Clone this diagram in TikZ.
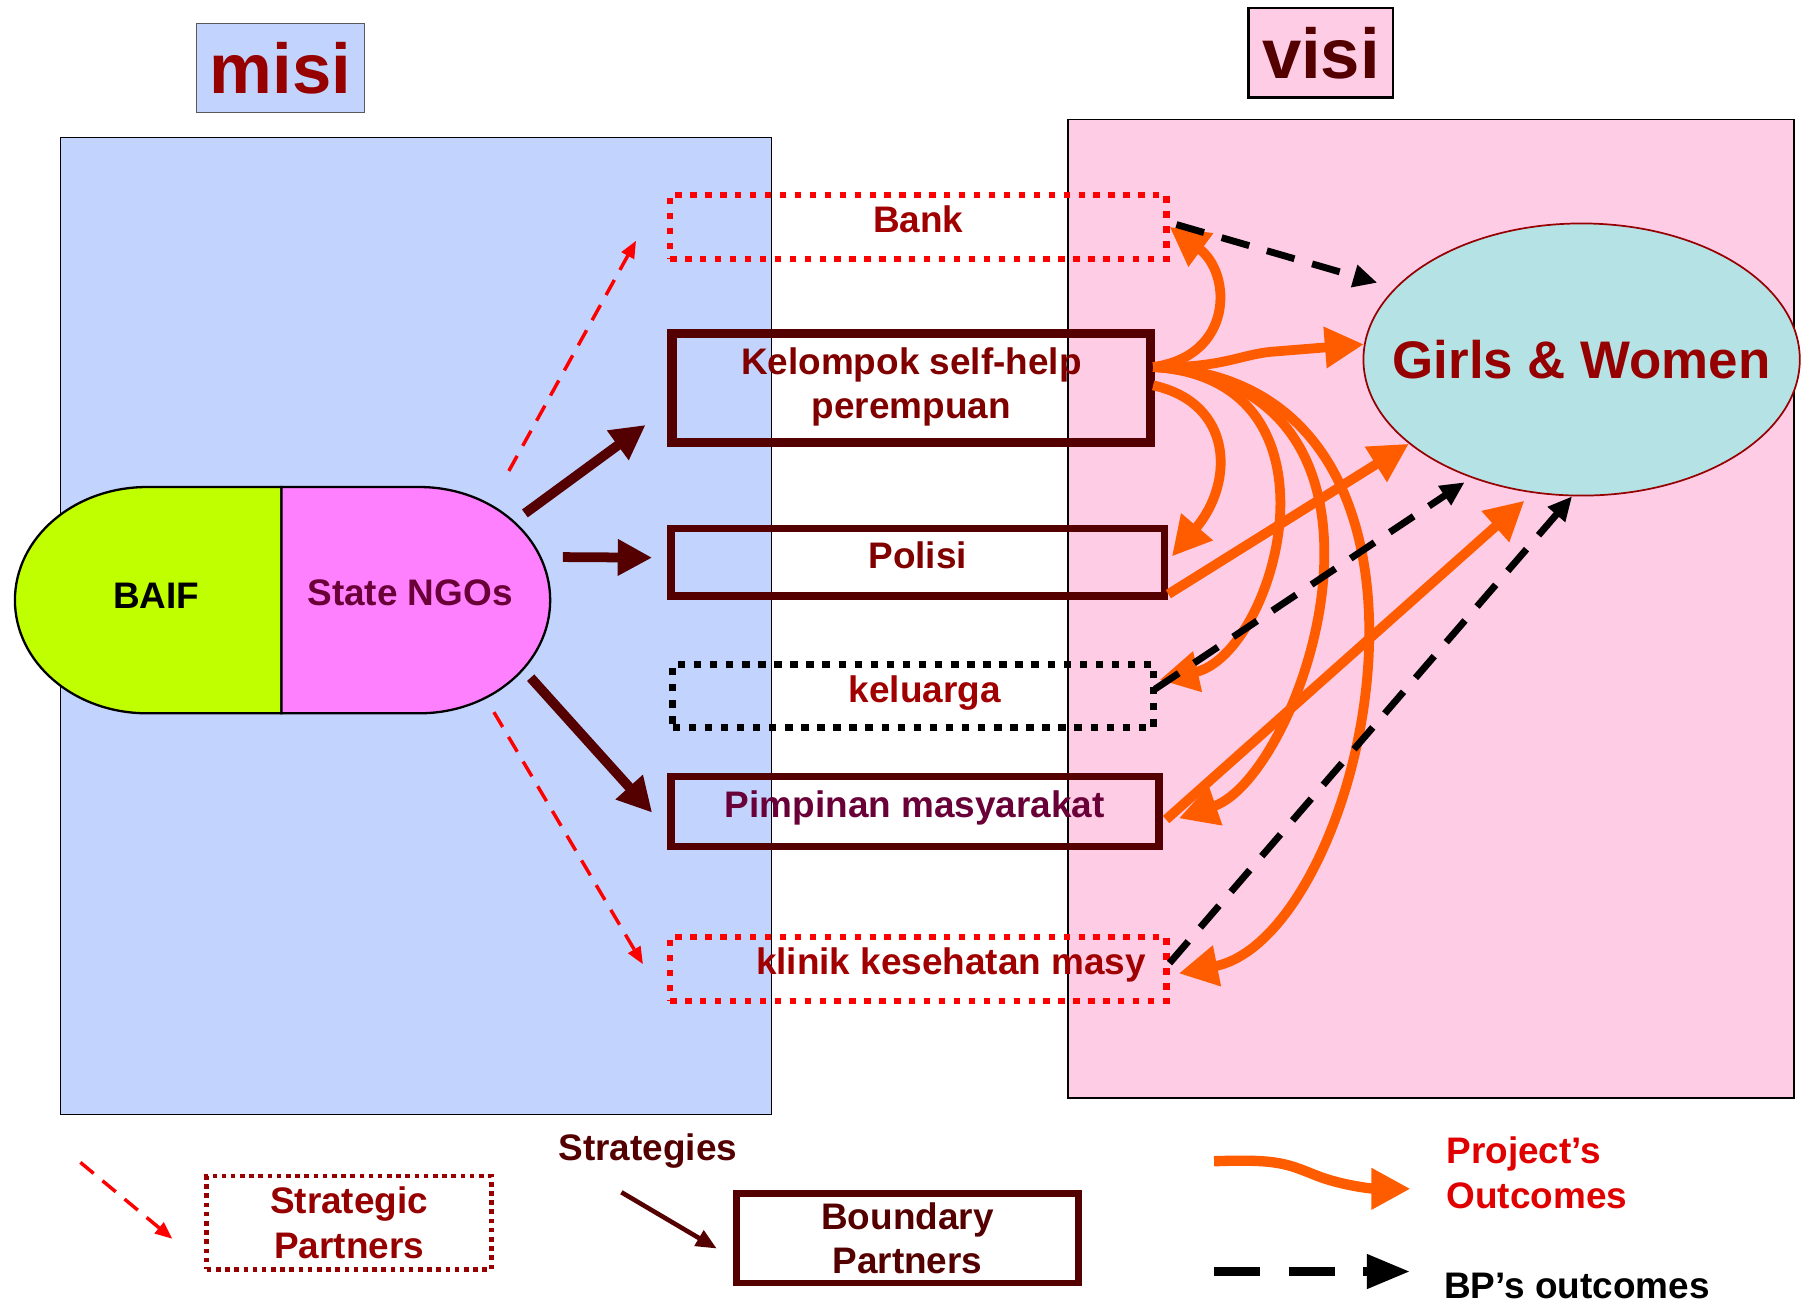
\documentclass[tikz,border=0pt]{standalone}
\usepackage{fontspec}
\setmainfont{Liberation Sans}
\usetikzlibrary{arrows.meta, positioning, shapes.geometric, calc}

\definecolor{misiblue}{RGB}{194,212,253}
\definecolor{visipink}{RGB}{255,204,230}
\definecolor{girlscyan}{RGB}{181,226,228}
\definecolor{baifgreen}{RGB}{191,255,0}
\definecolor{ngopink}{RGB}{255,128,255}
\definecolor{outorange}{RGB}{255,92,0}
\definecolor{bpbrown}{RGB}{85,0,0}
\definecolor{txtred}{RGB}{160,0,0}
\definecolor{kelred}{RGB}{128,0,0}
\definecolor{deepred}{RGB}{150,0,0}
\definecolor{plum}{RGB}{105,0,55}
\definecolor{projred}{RGB}{225,0,0}

\begin{document}
\begin{tikzpicture}[x=0.02cm, y=-0.02cm,
      every node/.style={inner sep=0pt, font=\bfseries\fontsize{18.3}{22}\selectfont},
      spbox/.style={rectangle, draw=red, line width=0.11cm, dash pattern=on 0.11cm off 0.15cm},
      bpbox/.style={rectangle, draw=bpbrown, line width=0.13cm},
      fambox/.style={rectangle, draw=black, line width=0.12cm, dash pattern=on 0.13cm off 0.15cm},
      oneline/.style={text height=0.46cm, text depth=0.25cm},
      titlebox/.style={rectangle, minimum width=2.52cm, minimum height=1.56cm, font=\bfseries\fontsize{35}{40}\selectfont},
      outc/.style={draw=outorange, line width=0.17cm, -{Triangle[length=0.68cm, width=0.68cm]}},
      bpout/.style={draw=black, line width=0.12cm, dash pattern=on 0.5cm off 0.32cm, -{Triangle[length=0.42cm, width=0.38cm]}},
      strat/.style={draw=bpbrown, line width=0.17cm, -{Triangle[length=0.6cm, width=0.6cm]}},
      spline/.style={draw=red, line width=0.06cm, dash pattern=on 0.3cm off 0.2cm, -{Triangle[length=0.3cm, width=0.24cm]}}]

      \useasboundingbox (0,0) rectangle (1568,1137);

      % Backgrounds
      \filldraw[fill=misiblue, draw=black, line width=0.6pt] (53,120) rectangle (672,970);
      \filldraw[fill=visipink, draw=black, line width=0.8pt] (930,104) rectangle (1562,956);

      % Titles
      \node[titlebox, fill=misiblue, draw=black!65, minimum width=2.92cm, text=deepred] (misi) at (244,59) {misi};
      \node[titlebox, fill=visipink, draw=black, line width=0.04cm, text=bpbrown] (visi) at (1150,46) {visi};

      % BAIF + State NGOs
      \filldraw[fill=baifgreen, draw=black, line width=0.04cm] (245,424) -- (128,424)
        arc[start angle=270, end angle=90, x radius=115, y radius=98.5] -- (245,621) -- cycle;
      \filldraw[fill=ngopink, draw=black, line width=0.04cm] (245,424) -- (365,424)
        arc[start angle=270, end angle=450, x radius=114, y radius=98.5] -- (245,621) -- cycle;
      \node (baif) at (136,519) {BAIF};
      \node[text=plum] (ngos) at (357,516) {State NGOs};

      % Partners
      \node[spbox, oneline, minimum width=8.64cm, minimum height=1.12cm, text=txtred] (bank) at (799.5,197.5) {Bank};
      \node[bpbox, line width=0.16cm, minimum width=8.34cm, minimum height=1.9cm, text=kelred] (kelompok) at (793.5,337.5)
        {\raisebox{0.08cm}{\begin{tabular}{@{}c@{}}Kelompok self-help\\perempuan\end{tabular}}};
      \node[bpbox, oneline, minimum width=8.6cm, minimum height=1.18cm, text=kelred] (polisi) at (799,489.5) {Polisi};
      \node[fambox, oneline, minimum width=8.38cm, minimum height=1.1cm, text=txtred] (keluarga) at (795,606) {\hspace*{0.4cm}keluarga};
      \node[bpbox, oneline, minimum width=8.5cm, minimum height=1.22cm, text=plum] (pimpinan) at (796.5,706.5) {Pimpinan masyarakat};
      \node[spbox, oneline, minimum width=8.64cm, minimum height=1.12cm, text=txtred] (klinik) at (799.5,843.5) {\hspace*{1.14cm}klinik kesehatan masy};

      % Vision
      \node[ellipse, draw=deepred, line width=0.03cm, fill=girlscyan, minimum width=7.6cm, minimum height=4.74cm,
            text=deepred, font=\bfseries\fontsize{26.2}{30}\selectfont] (girls) at (1377,313) {\makebox[0pt]{Girls \& Women}};

      % Strategies from the NGOs
      \coordinate (t1) at (443,410);
      \coordinate (t2) at (457,447);
      \coordinate (t3) at (490,485);
      \coordinate (t4) at (462,590);
      \coordinate (t5) at (430,620);
      \draw[spline] (t1) -- ($(bank.west)+(-27,12)$);
      \draw[strat] (t2) -- ($(kelompok.south west)+(-19,-19)$);
      \draw[strat] (t3) -- ($(polisi.west)+(-13,-4)$);
      \draw[strat] (t4) -- ($(pimpinan.west)+(-13,1)$);
      \draw[spline] (t5) -- ($(klinik.west)+(-21,-4)$);

      % Project's outcomes
      \coordinate (fan) at ($(kelompok.east)+(-2,-18)$);
      \coordinate (fanlow) at ($(kelompok.east)+(-2,-2)$);
      \draw[outc] (fan) .. controls (1074,310) and (1073,238) .. (bank.east);
      \draw[outc] (fan) .. controls (1065,321) and (1080,308) .. (1110,306) -- (girls.176);
      \draw[outc] (fanlow) .. controls (1074,351) and (1075,420) .. ($(polisi.east)+(3,-5)$);
      \draw[outc] (fan) .. controls (1180,330) and (1110,570) .. ($(keluarga.east)+(2,-14)$);
      \draw[outc] (fan) .. controls (1250,335) and (1135,675) .. ($(pimpinan.east)+(14,6)$);
      \draw[outc] (fan) .. controls (1300,330) and (1190,815) .. ($(klinik.east)+(8,4)$);
      \draw[outc] ($(polisi.south east)+(0,-5)$) -- (girls.206);
      \draw[outc, shorten >=0.2cm] ($(pimpinan.east)+(3,7)$) -- (girls.250);

      % BP's outcomes
      \draw[bpout, shorten >=0.32cm] ($(bank.east)+(6,-2)$) -- (girls.159);
      \draw[bpout, shorten >=0.14cm] ($(keluarga.east)+(-2,-6)$) -- (girls.227);
      \draw[bpout] ($(klinik.east)+(0,-5)$) -- (girls.266);

      % Legend
      \coordinate (lgs) at (70,1012);
      \node[rectangle, draw=deepred, line width=0.08cm, dash pattern=on 0.08cm off 0.08cm, minimum width=4.96cm,
            minimum height=1.62cm, align=center, text=deepred] (stratpart) at (304,1064.5) {Strategic\\Partners};
      \draw[spline] (lgs) -- ($(stratpart.west)+(-28,14)$);

      \node[text=bpbrown] (strategies) at (564,1002) {Strategies};
      \coordinate (lgb) at (541,1038);
      \node[bpbox, line width=0.12cm, minimum width=5.96cm, minimum height=1.56cm, align=center, text=bpbrown] (boundary) at (790,1078) {Boundary\\Partners};
      \draw[draw=bpbrown, line width=0.08cm, -{Triangle[length=0.36cm, width=0.3cm]}] (lgb) -- ($(boundary.west)+(-14,9)$);

      \node[anchor=west, align=left, text=projred] (projout) at (1259,1021) {Project’s\\Outcomes};
      \coordinate (lgo) at (1057,1011);
      \draw[outc, line width=0.18cm] (lgo) .. controls (1112,1009) and (1120,1013) .. (1145,1023)
        .. controls (1170,1033) and (1198,1035) .. ($(projout.west)+(-31,14)$);

      \node[anchor=west] (bpo) at (1257,1120) {BP’s outcomes};
      \coordinate (lgd) at (1057,1107);
      \draw[black, line width=0.17cm, dash pattern=on 0.8cm off 0.5cm, -{Triangle[length=0.76cm, width=0.56cm]}] (lgd) -- ($(bpo.west)+(-29,-13)$);
    \end{tikzpicture}
\end{document}
